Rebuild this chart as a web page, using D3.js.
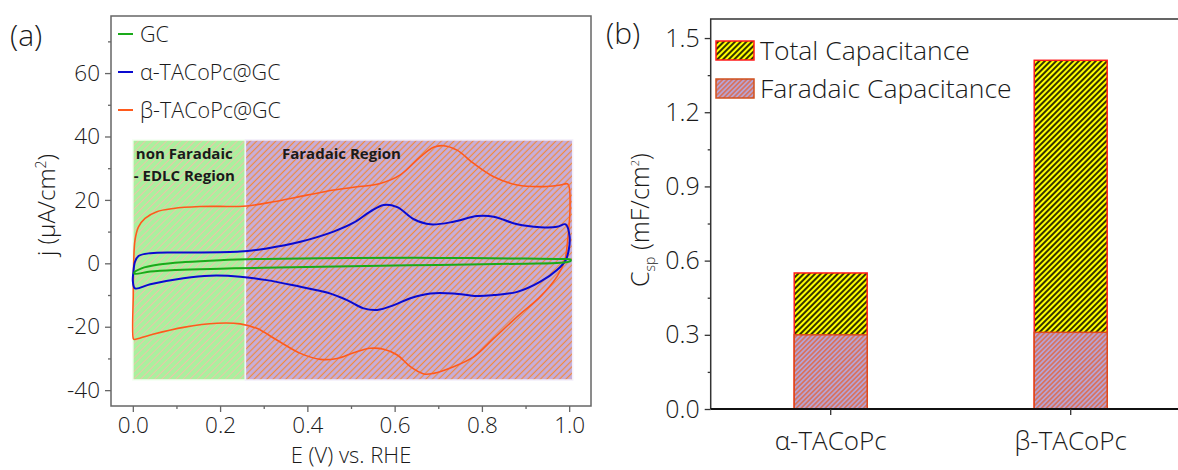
<!DOCTYPE html>
<html>
<head>
<meta charset="utf-8">
<style>
  body { margin: 0; background: #fff; }
  svg text { font-family: 'Open Sans', sans-serif; font-weight: 300; fill: #1a1a1a; }
</style>
</head>
<body>
<svg id="chart" width="1178" height="470"></svg>
<script src="https://d3js.org/d3.v7.min.js"></script>
<script>
// ---- panel (a) data: cyclic voltammograms, [E (V), j (uA/cm2)] ----
const gcCurve = [[0.003,-3.0],[0.02,-1.6],[0.06,-0.4],[0.12,0.4],[0.2,1.0],[0.3,1.4],[0.5,1.7],[0.7,1.7],[0.9,1.5],[0.98,1.4],
  [1.003,1.2],[1.003,0.7],[0.98,0.2],[0.9,-0.1],[0.7,-0.5],[0.5,-0.9],[0.3,-1.4],[0.2,-1.7],[0.1,-2.1],[0.04,-2.6],[0.005,-3.3]];
const alphaCurve = [[0.001,-3.2],[0.005,0.5],[0.013,2.3],[0.04,3.2],[0.116,3.4],[0.246,3.7],[0.307,4.7],[0.384,6.8],[0.46,10.0],
  [0.506,12.8],[0.544,16.3],[0.575,18.4],[0.606,17.7],[0.644,13.9],[0.682,12.3],[0.735,13.1],[0.789,14.9],[0.827,14.7],
  [0.881,12.3],[0.934,11.4],[0.972,11.5],[0.992,12.3],[1.001,8.4],[0.999,4.2],[0.992,1.0],[0.972,-2.1],[0.934,-5.8],
  [0.881,-9.0],[0.827,-10.0],[0.789,-10.3],[0.735,-9.5],[0.682,-9.5],[0.636,-11.0],[0.598,-13.2],[0.56,-14.7],[0.529,-14.2],
  [0.491,-11.6],[0.445,-9.2],[0.384,-7.4],[0.307,-5.3],[0.246,-4.2],[0.177,-3.9],[0.116,-4.7],[0.04,-6.6],[0.005,-7.9],[0.0,-5.5]];
const betaCurve = [[0.001,-23.7],[0.001,-10],[0.002,0],[0.005,7.3],[0.013,11.5],[0.028,14.2],[0.055,16.3],[0.093,17.3],
  [0.154,17.9],[0.261,18.1],[0.322,19.4],[0.399,21.5],[0.46,23.1],[0.506,24.0],[0.567,25.2],[0.613,27.9],[0.659,33.6],
  [0.689,36.6],[0.712,37.1],[0.743,35.7],[0.781,31.5],[0.827,27.3],[0.881,24.7],[0.942,24.2],[0.98,24.7],[0.997,25],
  [1.002,18],[0.997,8],[0.99,1],[0.972,-4.2],[0.934,-10.5],[0.881,-16.8],[0.827,-23.7],[0.781,-29.5],[0.735,-32.6],
  [0.689,-34.7],[0.667,-34.9],[0.636,-32.6],[0.606,-28.9],[0.575,-27.1],[0.544,-26.8],[0.506,-28.2],[0.468,-30.0],
  [0.43,-30.3],[0.384,-28.4],[0.33,-24.2],[0.284,-20.5],[0.246,-19.1],[0.193,-18.9],[0.116,-20.2],[0.04,-22.6],[0.003,-24]];
const cvNames = ['GC', 'α-TACoPc@GC', 'β-TACoPc@GC'];
// shaded regions: [E start, E end, j low, j high]
const edlcRegion = [0.0, 0.258, -36.8, 38.9];
const faradaicRegion = [0.258, 1.008, -36.8, 38.9];
const jTicks = [-40, -20, 0, 20, 40, 60];
const jMinor = [-30, -10, 10, 30, 50, 70];
const eTicks = [0, 0.2, 0.4, 0.6, 0.8, 1.0];
const eMinor = [0.1, 0.3, 0.5, 0.7, 0.9];

// ---- panel (b) data ----
const samples = ['α-TACoPc', 'β-TACoPc'];
const totalCap = [0.55, 1.41];
const faradaicCap = [0.30, 0.31];
const capTicks = [0, 0.3, 0.6, 0.9, 1.2, 1.5];
const capMinor = [0.15, 0.45, 0.75, 1.05, 1.35];

const svg = d3.select('#chart');
const defs = svg.append('defs');

function hatch(id, bg, line, gap, width) {
  const p = defs.append('pattern')
    .attr('id', id)
    .attr('patternUnits', 'userSpaceOnUse')
    .attr('width', gap).attr('height', gap)
    .attr('patternTransform', 'rotate(45)');
  p.append('rect').attr('width', gap).attr('height', gap).attr('fill', bg);
  p.append('line').attr('x1', gap / 2).attr('x2', gap / 2).attr('y1', 0).attr('y2', gap)
    .attr('stroke', line).attr('stroke-width', width);
}
hatch('greenHatch', '#aaf09e', '#ebc4a8', 5, 1);
hatch('purpleHatch', '#c6aedc', '#f08a3c', 4.5, 1.2);
hatch('yellowHatch', '#ffff00', '#000', 4, 1.6);
hatch('faradHatch', '#b8a2d2', '#e0653e', 3.4, 1.3);

// ================= panel (a) =================
const xA = d3.scaleLinear().domain([-0.05, 1.05]).range([111, 591]);
const yA = d3.scaleLinear().domain([-45, 78]).range([406, 16]);

const gA = svg.append('g');

gA.append('rect')
  .attr('x', xA(edlcRegion[0])).attr('y', yA(edlcRegion[3]))
  .attr('width', xA(edlcRegion[1]) - xA(edlcRegion[0]))
  .attr('height', yA(edlcRegion[2]) - yA(edlcRegion[3]))
  .attr('fill', 'url(#greenHatch)')
  .attr('stroke', '#f4fff2').attr('stroke-width', 1.5);
gA.append('rect')
  .attr('x', xA(faradaicRegion[0])).attr('y', yA(faradaicRegion[3]))
  .attr('width', xA(faradaicRegion[1]) - xA(faradaicRegion[0]))
  .attr('height', yA(faradaicRegion[2]) - yA(faradaicRegion[3]))
  .attr('fill', 'url(#purpleHatch)')
  .attr('stroke', '#f2eefa').attr('stroke-width', 1.5);

gA.append('text').attr('x', xA(edlcRegion[0]) + 3).attr('y', 159)
  .style('font-weight', 700).style('font-size', '15px').text('non Faradaic');
gA.append('text').attr('x', xA(edlcRegion[0]) + 1).attr('y', 181)
  .style('font-weight', 700).style('font-size', '15px').text('- EDLC Region');
gA.append('text').attr('x', 282).attr('y', 159)
  .style('font-weight', 700).style('font-size', '15px').text('Faradaic Region');

const line = d3.line().x(d => xA(d[0])).y(d => yA(d[1])).curve(d3.curveCatmullRomClosed.alpha(0.5));
const cvSeries = [
  { data: betaCurve, color: '#ff5a1c', w: 1.6 },
  { data: alphaCurve, color: '#0a0ad0', w: 2 },
  { data: gcCurve, color: '#1aaa1a', w: 2 }
];
gA.selectAll('.cv').data(cvSeries).enter().append('path')
  .attr('class', 'cv')
  .attr('d', d => line(d.data))
  .attr('fill', 'none')
  .attr('stroke', d => d.color)
  .attr('stroke-width', d => d.w);

// frame + axes
gA.append('rect').attr('x', 111).attr('y', 16).attr('width', 480).attr('height', 390)
  .attr('fill', 'none').attr('stroke', '#666').attr('stroke-width', 1.5);

const hyphen = d => String(d);
const axA_y = gA.append('g').attr('transform', 'translate(111,0)')
  .call(d3.axisLeft(yA).tickValues(jTicks).tickFormat(hyphen).tickSize(6).tickSizeOuter(0).tickPadding(5));
const axA_ym = gA.append('g').attr('transform', 'translate(111,0)')
  .call(d3.axisLeft(yA).tickValues(jMinor).tickSize(3).tickFormat(''));
const axA_x = gA.append('g').attr('transform', 'translate(0,406)')
  .call(d3.axisBottom(xA).tickValues(eTicks).tickFormat(d3.format('.1f')).tickSize(6).tickSizeOuter(0).tickPadding(5));
const axA_xm = gA.append('g').attr('transform', 'translate(0,406)')
  .call(d3.axisBottom(xA).tickValues(eMinor).tickSize(3).tickFormat(''));
[axA_y, axA_ym, axA_x, axA_xm].forEach(a => {
  a.select('.domain').remove();
  a.selectAll('line').attr('stroke', '#666').attr('stroke-width', 1.3);
  a.selectAll('text').style('font-size', '22.5px').attr('fill', '#1a1a1a');
});

// legend (a)
const cvColors = ['#1aaa1a', '#0a0ad0', '#ff5a1c'];
const legA = gA.selectAll('.legA').data(cvNames).enter().append('g')
  .attr('transform', (d, i) => `translate(118,${34 + i * 38})`);
legA.append('line').attr('x1', 0).attr('x2', 15).attr('stroke', (d, i) => cvColors[i]).attr('stroke-width', 2);
legA.append('text').attr('x', 22).attr('dy', '0.35em').style('font-size', '21.5px').text(d => d);

gA.append('text').attr('transform', 'translate(55,205) rotate(-90)').attr('text-anchor', 'middle')
  .style('font-size', '24px')
  .html('j (μA/cm<tspan dy="-9" style="font-size:14px">2</tspan><tspan dy="9">)</tspan>');
gA.append('text').attr('x', 351).attr('y', 463).attr('text-anchor', 'middle')
  .style('font-size', '22px').text('E (V) vs. RHE');
svg.append('text').attr('x', 10).attr('y', 46).style('font-size', '30px').text('(a)');

// ================= panel (b) =================
const xB = d3.scaleBand().domain(samples).range([710.7, 1190.7]).paddingInner(0.696).paddingOuter(0.348);
const yB = d3.scaleLinear().domain([0, 1.577]).range([409, 19]);
const gB = svg.append('g');

gB.selectAll('.tot').data(samples).enter().append('rect')
  .attr('x', d => xB(d)).attr('width', xB.bandwidth())
  .attr('y', (d, i) => yB(totalCap[i])).attr('height', (d, i) => yB(0) - yB(totalCap[i]))
  .attr('fill', 'url(#yellowHatch)').attr('stroke', '#ff1a1a').attr('stroke-width', 1.5);
gB.selectAll('.far').data(samples).enter().append('rect')
  .attr('x', d => xB(d)).attr('width', xB.bandwidth())
  .attr('y', (d, i) => yB(faradaicCap[i])).attr('height', (d, i) => yB(0) - yB(faradaicCap[i]))
  .attr('fill', 'url(#faradHatch)').attr('stroke', '#dd4a1e').attr('stroke-width', 1.5);

gB.append('path').attr('d', 'M710.7,409V19H1200')
  .attr('fill', 'none').attr('stroke', '#333').attr('stroke-width', 1.5);
gB.append('line').attr('x1', 710.7).attr('x2', 1200).attr('y1', 409).attr('y2', 409)
  .attr('stroke', '#111').attr('stroke-width', 2);

const axB_y = gB.append('g').attr('transform', 'translate(710.7,0)')
  .call(d3.axisLeft(yB).tickValues(capTicks).tickFormat(d3.format('.1f')).tickSize(6).tickSizeOuter(0).tickPadding(5));
const axB_ym = gB.append('g').attr('transform', 'translate(710.7,0)')
  .call(d3.axisLeft(yB).tickValues(capMinor).tickSize(3).tickFormat(''));
const axB_x = gB.append('g').attr('transform', 'translate(0,409)')
  .call(d3.axisBottom(xB).tickSize(6).tickSizeOuter(0).tickFormat(''));
[axB_y, axB_ym, axB_x].forEach(a => {
  a.select('.domain').remove();
  a.selectAll('line').attr('stroke', '#333').attr('stroke-width', 1.3);
  a.selectAll('text').style('font-size', '25px').attr('fill', '#1a1a1a');
});
gB.selectAll('.cat').data(samples).enter().append('text')
  .attr('x', d => xB(d) + xB.bandwidth() / 2).attr('y', 450)
  .attr('text-anchor', 'middle').style('font-size', '26px')
  .text(d => d);

// legend (b)
const legB = [['Total Capacitance', 'url(#yellowHatch)', '#ff1a1a'], ['Faradaic Capacitance', 'url(#faradHatch)', '#d0501e']];
const lg = gB.selectAll('.legB').data(legB).enter().append('g')
  .attr('transform', (d, i) => `translate(716,${41 + i * 38})`);
lg.append('rect').attr('width', 38).attr('height', 19)
  .attr('fill', d => d[1]).attr('stroke', d => d[2]).attr('stroke-width', 1.5);
lg.append('text').attr('x', 44).attr('y', 19).style('font-size', '26.5px').text(d => d[0]);

gB.append('text').attr('transform', 'translate(649,220) rotate(-90)').attr('text-anchor', 'middle')
  .style('font-size', '25px')
  .html('C<tspan dy="6" style="font-size:14px">sp</tspan><tspan dy="-6"> (mF/cm</tspan><tspan dy="-10" style="font-size:11px">2</tspan><tspan dy="10">)</tspan>');
svg.append('text').attr('x', 606).attr('y', 44).style('font-size', '30px').text('(b)');
</script>
</body>
</html>
